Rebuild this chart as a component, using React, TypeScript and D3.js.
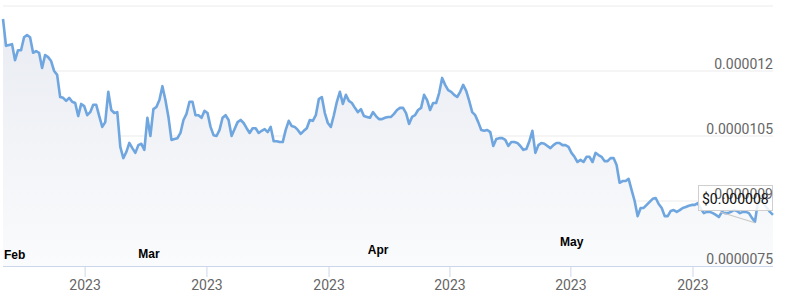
import React from "react";
import * as d3 from "d3";

// Price in millionths of a dollar (1 unit = $0.000001), one value per sample
const prices: number[] = [
  13.20, 12.58, 12.60, 12.62, 12.25, 12.48, 12.48, 12.78, 12.83, 12.78,
  12.42, 12.46, 12.42, 12.07, 12.37, 12.32, 12.23, 12.00, 11.91, 11.40,
  11.38, 11.31, 11.38, 11.29, 11.26, 10.96, 11.24, 11.19, 10.98, 11.05,
  11.22, 11.22, 10.96, 10.71, 10.82, 11.52, 11.10, 11.03, 11.05, 10.25,
  9.99, 10.13, 10.34, 10.22, 10.11, 10.29, 10.32, 10.18, 10.92, 10.50,
  11.12, 11.17, 11.33, 11.65, 11.33, 10.94, 10.41, 10.43, 10.45, 10.57,
  10.87, 11.01, 11.29, 11.29, 10.98, 10.98, 10.92, 11.08, 11.03, 10.71,
  10.52, 10.50, 10.64, 10.92, 10.98, 10.87, 10.50, 10.66, 10.82, 10.87,
  10.80, 10.68, 10.57, 10.68, 10.68, 10.57, 10.62, 10.66, 10.59, 10.71,
  10.38, 10.38, 10.36, 10.36, 10.64, 10.85, 10.73, 10.71, 10.64, 10.55,
  10.62, 10.68, 10.87, 10.85, 10.98, 11.35, 11.40, 11.03, 10.80, 10.71,
  10.98, 11.29, 11.52, 11.24, 11.45, 11.31, 11.26, 11.15, 11.05, 11.12,
  10.96, 10.94, 10.92, 11.05, 10.96, 10.89, 10.89, 10.92, 10.94, 10.94,
  11.01, 11.10, 11.15, 11.15, 11.03, 10.78, 10.94, 10.98, 11.10, 11.15,
  11.45, 11.33, 11.10, 11.26, 11.26, 11.49, 11.84, 11.68, 11.56, 11.52,
  11.45, 11.40, 11.52, 11.68, 11.54, 11.31, 11.05, 10.98, 10.82, 10.64,
  10.62, 10.64, 10.59, 10.27, 10.43, 10.45, 10.45, 10.41, 10.27, 10.36,
  10.36, 10.34, 10.27, 10.18, 10.20, 10.38, 10.62, 10.11, 10.29, 10.34,
  10.32, 10.27, 10.22, 10.29, 10.34, 10.34, 10.29, 10.29, 10.25, 10.11,
  10.02, 9.90, 9.95, 9.90, 10.02, 10.02, 9.90, 10.11, 10.06, 10.02,
  9.92, 9.92, 9.99, 9.99, 9.83, 9.42, 9.46, 9.46, 9.51, 9.25,
  9.00, 8.65, 8.84, 8.84, 8.91, 8.98, 9.05, 9.07, 8.93, 8.84,
  8.65, 8.65, 8.77, 8.79, 8.75, 8.79, 8.84, 8.86, 8.89, 8.91,
  8.91, 8.95, 8.82, 8.72, 8.75, 8.75, 8.72, 8.68, 8.63, 8.75,
  8.72, 8.72, 8.75, 8.79, 8.77, 8.72, 8.75, 8.75, 8.72, 8.61,
  8.52, 8.98, 9.02, 8.93, 8.84, 8.75, 8.68,
];

const gridValues: number[] = [7.5, 9, 10.5, 12, 13.5];
const yTickValues: number[] = [12, 10.5, 9, 7.5];
const yTickLabels: string[] = ["0.000012", "0.0000105", "0.000009", "0.0000075"];

// x ticks (sample index) and their labels
const xTickIndex: number[] = [27.3, 67.8, 108.4, 148.6, 188.8, 229.4];
const xTickLabels: string[] = ["2023", "2023", "2023", "2023", "2023", "2023"];

// month markers (sample index)
const monthNames: string[] = ["Feb", "Mar", "Apr", "May"];
const monthIndex: number[] = [0.3, 45, 121.3, 185.2];

const tooltipIndex = 250;
const tooltipText = "$0.000008";

// ---- layout ----
const W = 800;
const H = 304;
const left = 3;
const right = 773;
const top = 6;
const bottom = 266;
const monthBaseline = [259, 258, 254, 246];

export default function App() {
  const x = d3.scaleLinear().domain([0, prices.length - 1]).range([left, right]);
  const y = d3.scaleLinear().domain([7.5, 13.5]).range([bottom, top]);

  const line = d3
    .line<number>()
    .x((_, i) => x(i))
    .y((d) => y(d));
  const area = d3
    .area<number>()
    .x((_, i) => x(i))
    .y0(bottom)
    .y1((d) => y(d));

  const px = x(tooltipIndex);
  const py = y(prices[tooltipIndex]);
  const box = { x: 698, y: 185, w: 74, h: 25 };

  return (
    <svg
      width={W}
      height={H}
      style={{ position: "fixed", left: 0, top: 0, background: "#fff" }}
      fontFamily="Roboto, 'Noto Sans', sans-serif"
    >
      <defs>
        <linearGradient id="fillGrad" gradientUnits="userSpaceOnUse" x1="0" y1={top} x2="0" y2={bottom}>
          <stop offset="0" stopColor="#e8ebf2" />
          <stop offset="1" stopColor="#fafbfc" />
        </linearGradient>
      </defs>

      {gridValues.slice(1).map((v, i) => (
        <line key={"g" + i} x1={left} x2={right} y1={y(v)} y2={y(v)} stroke="#ebebeb" strokeWidth={1} />
      ))}

      <path d={area(prices) || ""} fill="url(#fillGrad)" />
      <path d={line(prices) || ""} fill="none" stroke="#6fa6df" strokeWidth={2.6} strokeLinejoin="round" />

      {/* x axis */}
      <line x1={left} x2={right} y1={bottom + 0.5} y2={bottom + 0.5} stroke="#ccd6eb" strokeWidth={1} />
      {xTickIndex.map((t, i) => (
        <g key={"xt" + i}>
          <line x1={x(t)} x2={x(t)} y1={bottom} y2={bottom + 11} stroke="#ccd6eb" strokeWidth={1} />
          <text x={x(t)} y={290} textAnchor="middle" fontSize={14} fill="#666">
            {xTickLabels[i]}
          </text>
        </g>
      ))}

      {monthNames.map((m, i) => (
        <text
          key={"m" + i}
          x={x(monthIndex[i])}
          y={monthBaseline[i]}
          fontFamily="'Liberation Sans', Arial, sans-serif"
          fontWeight="bold"
          fontSize={12}
          fill="#000"
        >
          {m}
        </text>
      ))}

      {/* tooltip box */}
      <line x1={box.x + 22} y1={box.y + box.h + 2} x2={px} y2={py + 1} stroke="#c8c8c8" strokeWidth={1.2} />
      <rect x={box.x + 0.5} y={box.y + 0.5} width={box.w} height={box.h} fill="#fff" fillOpacity={0.85} stroke="#cfcfcf" strokeWidth={1} />

      {yTickValues.map((v, i) => (
        <text key={"yl" + i} x={right} y={y(v) - 2} textAnchor="end" fontSize={14} fill="#666">
          {yTickLabels[i]}
        </text>
      ))}

      <text x={box.x + 4} y={box.y + 19} fontSize={14} fill="#111">
        {tooltipText}
      </text>
    </svg>
  );
}
